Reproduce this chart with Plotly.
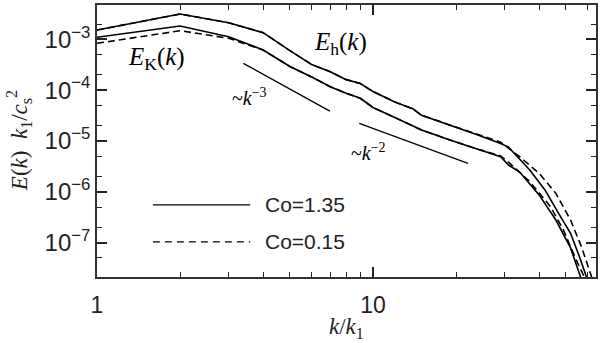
import plotly.graph_objects as go
import numpy as np

# ---- data ----
k_h_co135 = [1, 2, 3, 4, 5, 6, 7, 8, 9, 10, 12, 14, 15, 19, 24, 29, 31, 37, 42, 47, 52, 56, 60]
E_h_co135 = [1.524e-3, 3.148e-3, 2.118e-3, 1.35e-3, 6.0e-4, 3.19e-4, 2.31e-4, 1.61e-4, 1.35e-4,
             9.4e-5, 5.85e-5, 4.26e-5, 3.20e-5, 2.07e-5, 1.31e-5, 8.9e-6, 7.6e-6, 2.69e-6,
             1.09e-6, 3.8e-7, 1.53e-7, 5.3e-8, 1.8e-8]

k_h_co015 = [1, 2, 3, 4, 5, 6, 7, 8, 9, 10, 12, 14, 15, 19, 24, 29, 34, 40, 46, 52, 57, 62]
E_h_co015 = [1.524e-3, 3.148e-3, 2.118e-3, 1.35e-3, 6.0e-4, 3.19e-4, 2.31e-4, 1.61e-4, 1.35e-4,
             9.4e-5, 5.85e-5, 4.26e-5, 3.20e-5, 2.07e-5, 1.33e-5, 9.5e-6, 4.91e-6, 2.32e-6,
             9.35e-7, 2.79e-7, 8.2e-8, 2.11e-8]

k_K_co135 = [1, 2, 3, 4, 5, 6, 7, 8, 9, 10, 12, 15, 19, 24, 29, 31, 34, 40, 46, 52, 57]
E_K_co135 = [1.094e-3, 1.828e-3, 1.125e-3, 6.17e-4, 2.92e-4, 1.82e-4, 1.17e-4, 8.67e-5, 6.92e-5,
             4.56e-5, 2.90e-5, 1.64e-5, 1.05e-5, 6.81e-6, 4.91e-6, 3.37e-6, 2.45e-6, 8.7e-7,
             2.79e-7, 7.9e-8, 1.85e-8]

k_K_co015 = [1, 2, 3, 4, 5, 6, 7, 8, 9, 10, 12, 15, 19, 24, 29, 31, 37, 44, 49, 54.5, 59]
E_K_co015 = [8.34e-4, 1.476e-3, 1.05e-3, 6.17e-4, 2.92e-4, 1.82e-4, 1.17e-4, 8.67e-5, 6.92e-5,
             4.56e-5, 2.90e-5, 1.64e-5, 1.05e-5, 6.9e-6, 5.1e-6, 3.85e-6, 1.58e-6, 5.1e-7,
             1.78e-7, 4.6e-8, 1.85e-8]

# reference power laws: amplitude, exponent, k-range
pl3_k = [3.39, 6.98]; pl3_amp = 1.313e-2; pl3_exp = -3
pl2_k = [8.92, 22.1]; pl2_amp = 1.775e-3; pl2_exp = -2

x_ticks = [1, 10]
x_ticktext = ["1", "10"]
y_ticks = [1e-7, 1e-6, 1e-5, 1e-4, 1e-3]
y_ticktext = ["10<sup>−7</sup>", "10<sup>−6</sup>", "10<sup>−5</sup>", "10<sup>−4</sup>", "10<sup>−3</sup>"]

legend_labels = ["Co=1.35", "Co=0.15"]

# ---- figure ----
fig = go.Figure()
LW = 1.6
solid = dict(color="black", width=LW)
dashed = dict(color="black", width=LW, dash="7px,4px")

fig.add_trace(go.Scatter(x=k_h_co015, y=E_h_co015, mode="lines", line=dashed))
fig.add_trace(go.Scatter(x=k_K_co015, y=E_K_co015, mode="lines", line=dashed))
fig.add_trace(go.Scatter(x=k_h_co135, y=E_h_co135, mode="lines", line=solid))
fig.add_trace(go.Scatter(x=k_K_co135, y=E_K_co135, mode="lines", line=solid))

pl3_y = [pl3_amp * k ** pl3_exp for k in pl3_k]
pl2_y = [pl2_amp * k ** pl2_exp for k in pl2_k]
fig.add_trace(go.Scatter(x=pl3_k, y=pl3_y, mode="lines", line=dict(color="black", width=1.3)))
fig.add_trace(go.Scatter(x=pl2_k, y=pl2_y, mode="lines", line=dict(color="black", width=1.3)))

x_minor = [m * 10 ** e for e in range(0, 2) for m in range(2, 10) if m * 10 ** e < 64]

axcol = "#222222"
nogrid = "rgba(0,0,0,0)"
fig.update_xaxes(type="log", range=[0, np.log10(64.3)],
                 tickmode="array", tickvals=x_ticks, ticktext=x_ticktext, ticklabelstandoff=7,
                 ticks="inside", ticklen=10, tickwidth=1.6, tickcolor=axcol,
                 minor=dict(tickmode="array", tickvals=x_minor, ticks="inside", ticklen=5,
                            tickwidth=1.4, tickcolor=axcol),
                 showline=True, linecolor="#333333", linewidth=1.5, mirror="allticks",
                 gridcolor=nogrid, layer="above traces",
                 tickfont=dict(family="Liberation Sans, Arial", size=23, color="#222"))
fig.update_yaxes(type="log", range=[-7.675, -2.325],
                 tickmode="array", tickvals=y_ticks, ticktext=y_ticktext,
                 ticks="inside", ticklen=10, tickwidth=1.6, tickcolor=axcol,
                 minor=dict(ticks="inside", ticklen=5, tickwidth=1.4, tickcolor=axcol),
                 showline=True, linecolor="#333333", linewidth=1.5, mirror="allticks",
                 gridcolor=nogrid, layer="above traces",
                 tickfont=dict(family="Liberation Sans, Arial", size=24, color="#222"))

serif = "Liberation Serif, Times New Roman, serif"
C = dict(xanchor="center", yanchor="middle", showarrow=False)
ann = []
ann.append(dict(x=0.217, y=-3.368, xref="x", yref="y", **C,
                text="<i>E</i><sub>K</sub>(<i>k</i>)", font=dict(family=serif, size=25, color="black")))
ann.append(dict(x=0.884, y=-3.073, xref="x", yref="y", **C,
                text="<i>E</i><sub>h</sub>(<i>k</i>)", font=dict(family=serif, size=25, color="black")))
ann.append(dict(x=0.554, y=-4.137, xref="x", yref="y", **C,
                text="~<i>k</i><sup>−3</sup>", font=dict(family=serif, size=20, color="black")))
ann.append(dict(x=0.982, y=-5.216, xref="x", yref="y", **C,
                text="~<i>k</i><sup>−2</sup>", font=dict(family=serif, size=20, color="black")))
# legend text
ann.append(dict(x=0.333, y=0.265, xref="paper", yref="paper", xanchor="left", yanchor="middle", showarrow=False,
                text=legend_labels[0], font=dict(family="Liberation Sans, Arial", size=21, color="#222")))
ann.append(dict(x=0.333, y=0.129, xref="paper", yref="paper", xanchor="left", yanchor="middle", showarrow=False,
                text=legend_labels[1], font=dict(family="Liberation Sans, Arial", size=21, color="#222")))
# axis titles
ann.append(dict(x=-0.158, y=0.5, xref="paper", yref="paper", **C, textangle=-90,
                text="<i>E</i>(<i>k</i>)  <i>k</i><sub>1</sub>/<i>c</i><sub>s</sub><sup>2</sup>",
                font=dict(family=serif, size=23, color="#222")))
ann.append(dict(x=0.501, y=-0.1875, xref="paper", yref="paper", **C,
                text="<i>k</i>/<i>k</i><sub>1</sub>", font=dict(family=serif, size=23, color="#222")))

shapes = [
    dict(type="line", xref="paper", yref="paper", x0=0.112, x1=0.307, y0=0.265, y1=0.265,
         line=dict(color="black", width=1.2)),
    dict(type="line", xref="paper", yref="paper", x0=0.112, x1=0.307, y0=0.129, y1=0.129,
         line=dict(color="black", width=1.2, dash="7px,5px")),
]

fig.update_layout(width=600, height=343, margin=dict(l=97, r=4, t=5, b=66, autoexpand=False),
                  plot_bgcolor="white", showlegend=False,
                  annotations=ann, shapes=shapes)

fig.write_html("out.html", config={"displayModeBar": False},
               post_script="document.body.style.margin='0';document.body.style.overflow='hidden';")
